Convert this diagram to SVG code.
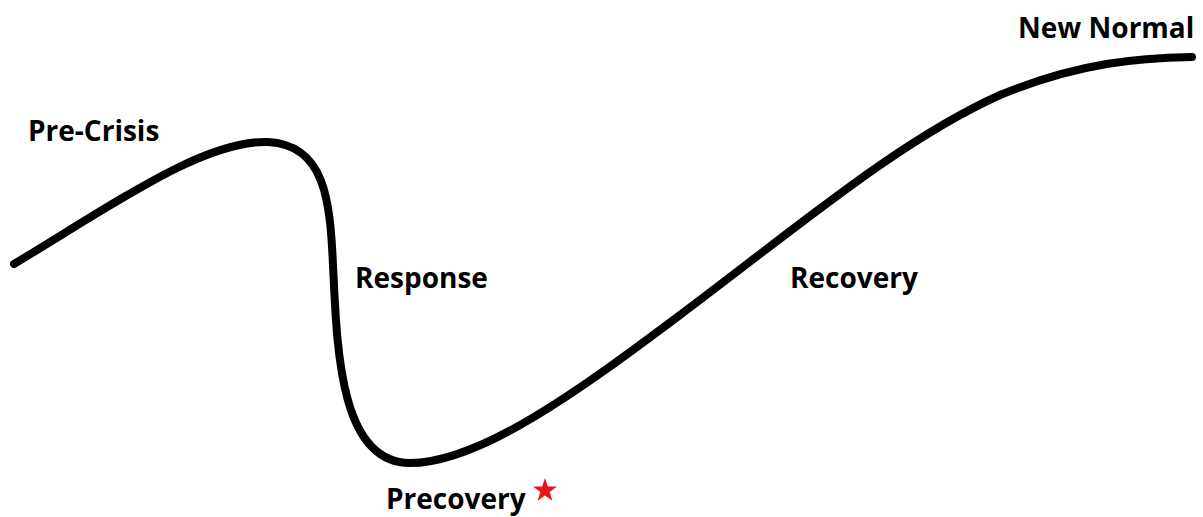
<svg xmlns="http://www.w3.org/2000/svg" width="1203" height="517" viewBox="0 0 1203 517">
<style>
.lbl{font-family:"Open Sans","Liberation Sans",sans-serif;font-weight:700;font-size:28px;fill:#000}
.curve{fill:none;stroke:#000;stroke-width:8;stroke-linecap:round;stroke-linejoin:round}
</style>
<rect width="1203" height="517" fill="#fff"/>
<g id="connectors">
<path class="curve" d="M14,264 C120,200 205,140 268,142 C325,145 330,200 333,265 C337,350 340,463 410,463 C480,463 580,390 680,315 C800,225 900,140 1000,95 C1080,62 1140,58 1192,57"/>
</g>
<g id="pre-crisis"><text class="lbl" x="28" y="141">Pre-Crisis</text></g>
<g id="response"><text class="lbl" x="355" y="288">Response</text></g>
<g id="recovery"><text class="lbl" x="790" y="288">Recovery</text></g>
<g id="new-normal"><text class="lbl" x="1018" y="38">New Normal</text></g>
<g id="precovery"><text class="lbl" x="386" y="509">Precovery</text>
<polygon fill="#e8141c" points="545,478 547.9,486.5 557,486.6 549.7,492 552.4,500.7 545,495.5 537.6,500.7 540.3,492 533,486.6 542.1,486.5"/></g>
</svg>
